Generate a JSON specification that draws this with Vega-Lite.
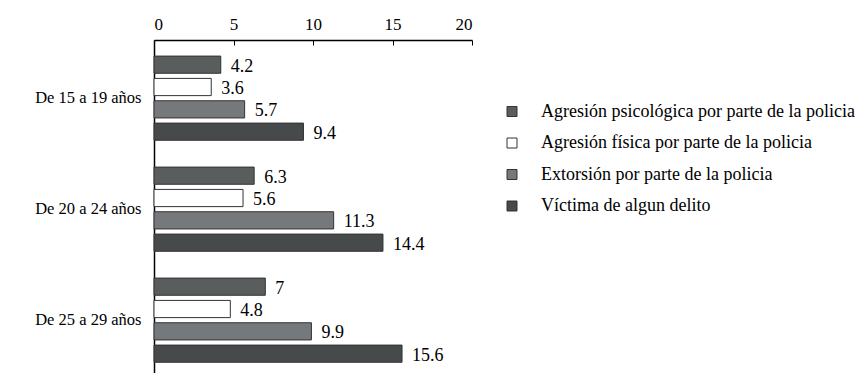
{
  "$schema": "https://vega.github.io/schema/vega-lite/v6.json",
  "width": 318,
  "height": 333,
  "autosize": "none",
  "padding": {"left": 154, "top": 40, "right": 387, "bottom": 0},
  "background": "white",
  "config": {
    "font": "Times New Roman, Liberation Serif, serif",
    "view": {"stroke": null}
  },
  "data": {
    "values": [
      {"grupo": "De 15 a 19 años", "serie": "Agresión psicológica por parte de la policia", "valor": 4.2},
      {"grupo": "De 15 a 19 años", "serie": "Agresión física por parte de la policia", "valor": 3.6},
      {"grupo": "De 15 a 19 años", "serie": "Extorsión por parte de la policia", "valor": 5.7},
      {"grupo": "De 15 a 19 años", "serie": "Víctima de algun delito", "valor": 9.4},
      {"grupo": "De 20 a 24 años", "serie": "Agresión psicológica por parte de la policia", "valor": 6.3},
      {"grupo": "De 20 a 24 años", "serie": "Agresión física por parte de la policia", "valor": 5.6},
      {"grupo": "De 20 a 24 años", "serie": "Extorsión por parte de la policia", "valor": 11.3},
      {"grupo": "De 20 a 24 años", "serie": "Víctima de algun delito", "valor": 14.4},
      {"grupo": "De 25 a 29 años", "serie": "Agresión psicológica por parte de la policia", "valor": 7},
      {"grupo": "De 25 a 29 años", "serie": "Agresión física por parte de la policia", "valor": 4.8},
      {"grupo": "De 25 a 29 años", "serie": "Extorsión por parte de la policia", "valor": 9.9},
      {"grupo": "De 25 a 29 años", "serie": "Víctima de algun delito", "valor": 15.6}
    ]
  },
  "encoding": {
    "y": {
      "field": "grupo", "type": "nominal",
      "sort": ["De 15 a 19 años", "De 20 a 24 años", "De 25 a 29 años"],
      "scale": {"paddingInner": 0, "paddingOuter": 0},
      "axis": {"title": null, "ticks": false, "labelPadding": 13, "labelFontSize": 16.5, "labelColor": "#000", "domainColor": "#000", "domainWidth": 1.5, "labelFont": "Times New Roman, Liberation Serif, serif", "labelOffset": 2}
    },
    "yOffset": {
      "field": "serie", "type": "nominal",
      "sort": ["Agresión psicológica por parte de la policia", "Agresión física por parte de la policia", "Extorsión por parte de la policia", "Víctima de algun delito"],
      "scale": {"paddingInner": 0.23, "paddingOuter": 0.6, "align": 0.6}
    },
    "x": {
      "field": "valor", "type": "quantitative",
      "scale": {"domain": [0, 20], "nice": false},
      "axis": {"orient": "top", "title": null, "values": [0, 5, 10, 15, 20], "grid": false, "tickSize": -5, "tickColor": "#000", "domainColor": "#000", "domainWidth": 1.5, "labelFontSize": 17, "labelColor": "#000", "labelPadding": 12, "labelFont": "Times New Roman, Liberation Serif, serif"}
    }
  },
  "layer": [
    {
      "mark": {"type": "bar", "stroke": "#333", "strokeWidth": 1},
      "encoding": {
        "color": {
          "field": "serie", "type": "nominal",
          "scale": {
            "domain": ["Agresión psicológica por parte de la policia", "Agresión física por parte de la policia", "Extorsión por parte de la policia", "Víctima de algun delito"],
            "range": ["#5a5d5e", "#ffffff", "#76797b", "#474a4b"]
          },
          "legend": {
            "title": null, "orient": "none", "legendX": 349, "legendY": 62.5,
            "symbolType": "square", "symbolSize": 100, "symbolStrokeColor": "#333", "symbolStrokeWidth": 1, "symbolOpacity": 1,
            "labelFontSize": 18, "labelColor": "#000", "labelFont": "Times New Roman, Liberation Serif, serif", "labelOffset": 20, "rowPadding": 13.5, "labelLimit": 400
          }
        }
      }
    },
    {
      "mark": {"type": "text", "align": "left", "baseline": "middle", "dx": 10, "dy": 2, "fontSize": 18, "color": "#000", "font": "Times New Roman, Liberation Serif, serif"},
      "encoding": {"text": {"field": "valor", "type": "quantitative"}}
    }
  ]
}
